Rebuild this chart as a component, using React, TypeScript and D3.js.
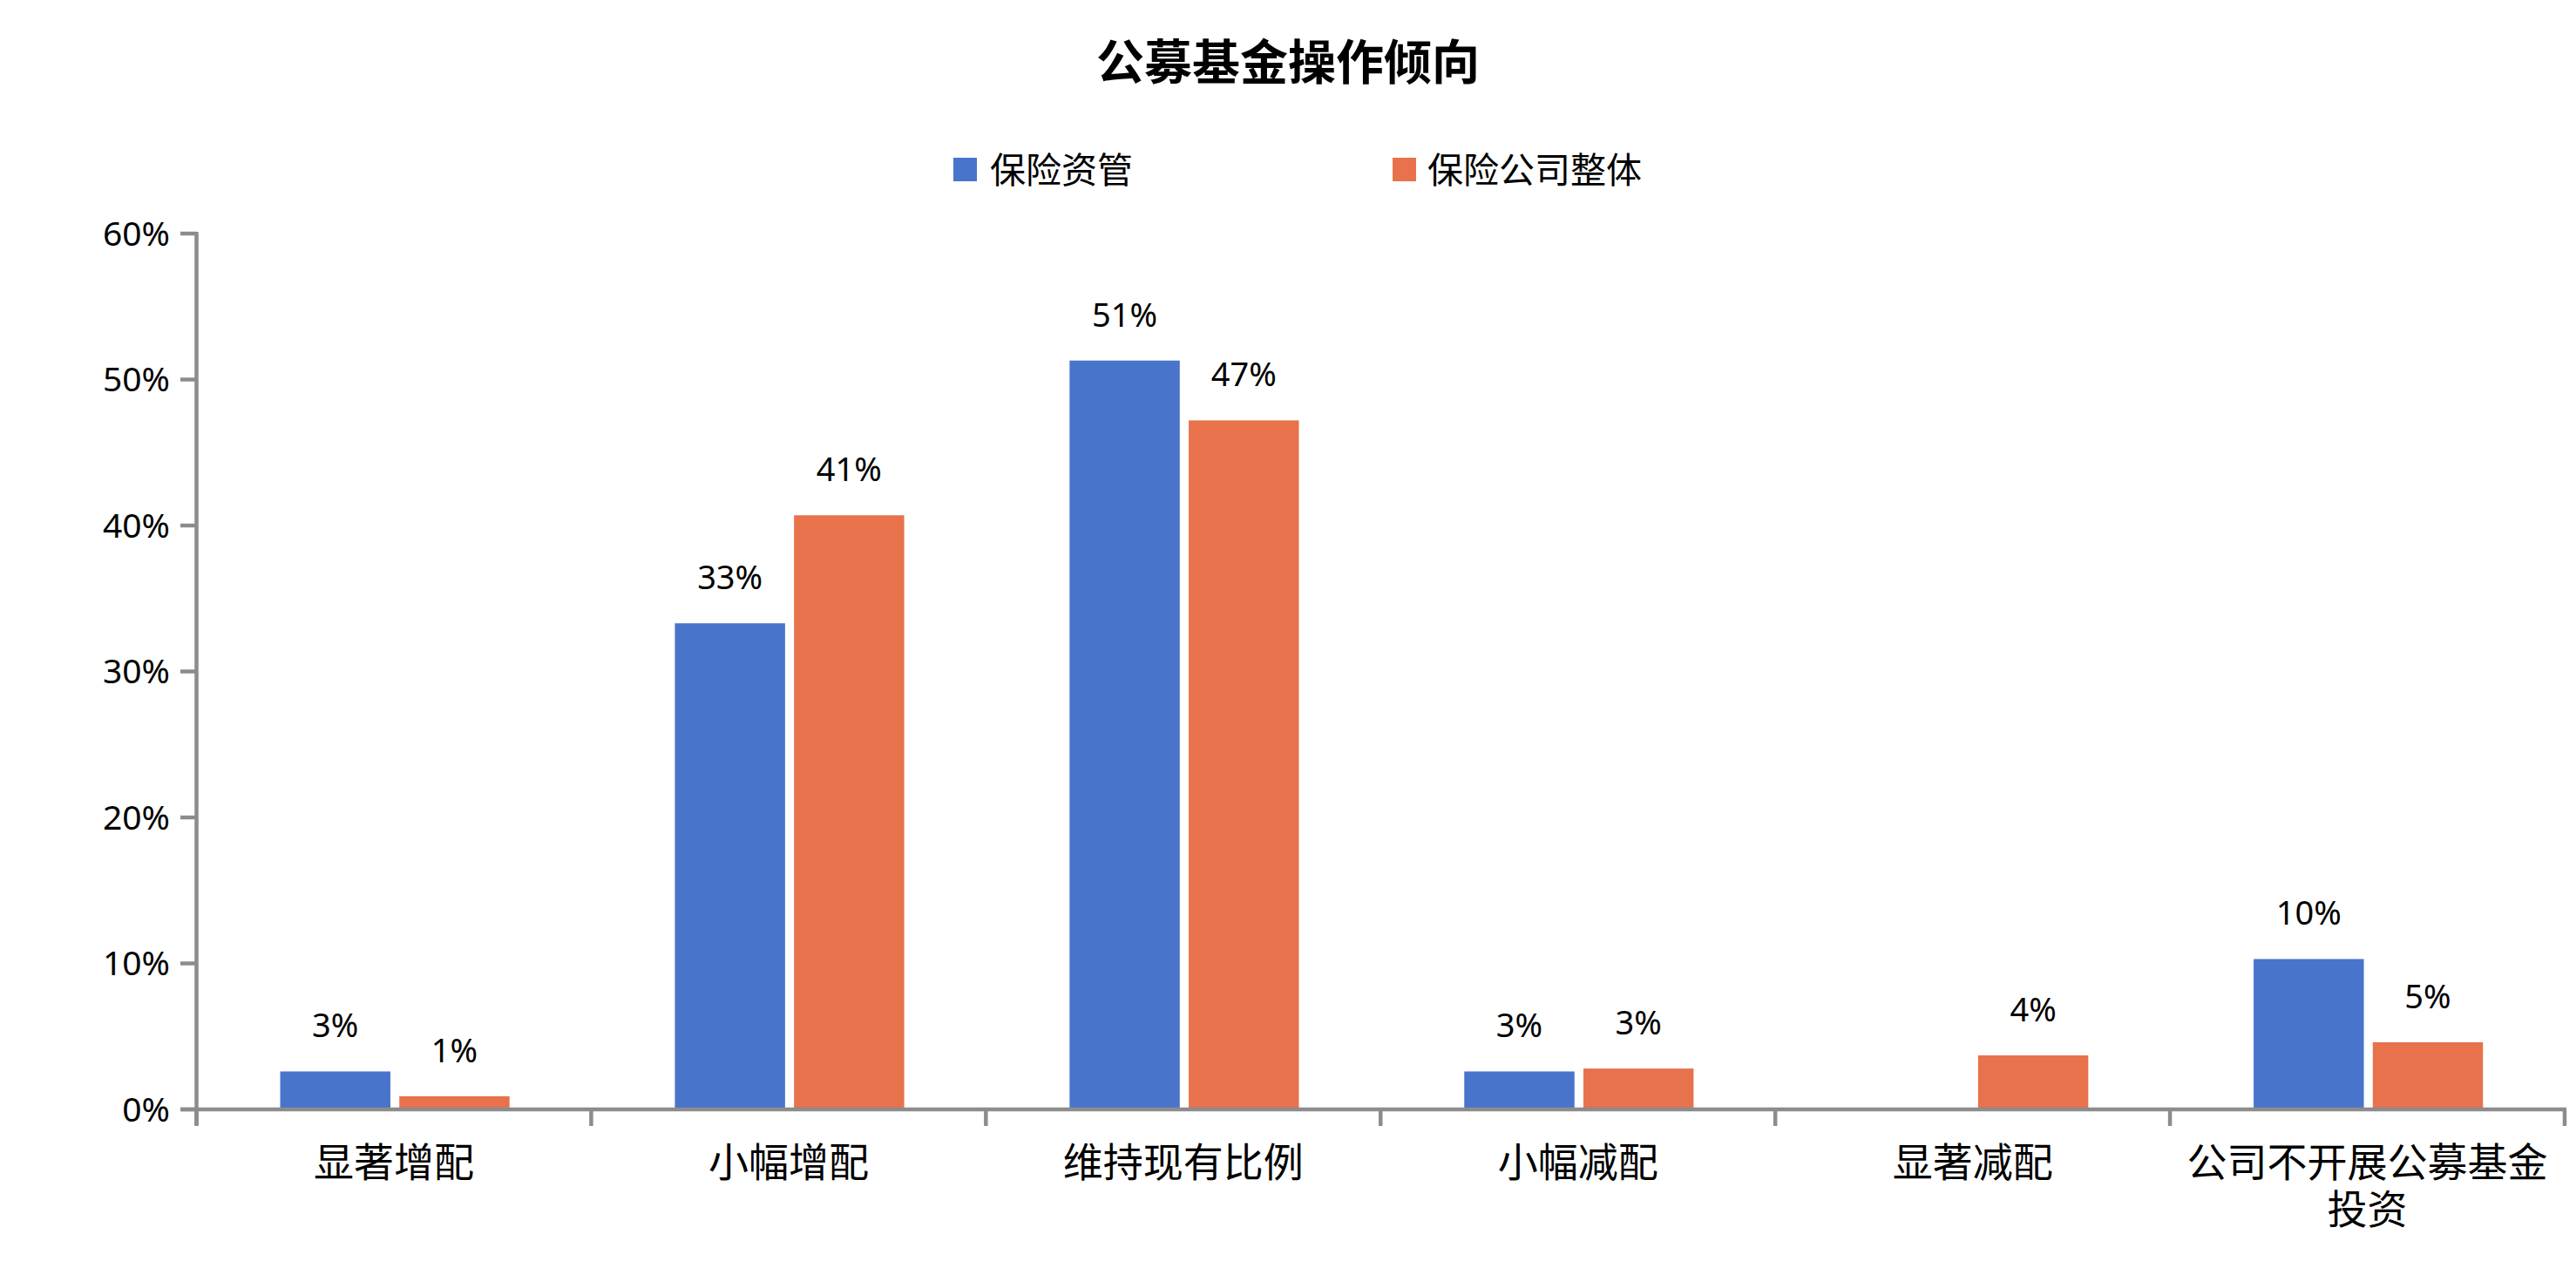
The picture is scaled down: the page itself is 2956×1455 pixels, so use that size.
import React from "react";
import * as d3 from "d3";

const categories: string[][] = [
  ["显著增配"],
  ["小幅增配"],
  ["维持现有比例"],
  ["小幅减配"],
  ["显著减配"],
  ["公司不开展公募基金", "投资"],
];
const seriesNames = ["保险资管", "保险公司整体"];
const seriesColors = ["#4874CB", "#E7724C"];
const assetMgmt = [2.6, 33.3, 51.3, 2.6, 0, 10.3];
const insurerTotal = [0.9, 40.7, 47.2, 2.8, 3.7, 4.6];
const yTicks = [0, 10, 20, 30, 40, 50, 60];
const title = "公募基金操作倾向";

const W = 2956;
const H = 1455;
const FONT = "'Noto Sans', 'Noto Sans CJK SC', sans-serif";
const AXIS = "#8C8C8C";

export default function App() {
  const left = 225.5;
  const right = 2943;
  const top = 268;
  const bottom = 1273;
  const keys = categories.map((c) => c.join(""));
  const x = d3.scaleBand<string>().domain(keys).range([left, right]).padding(0);
  const bw = x.bandwidth();
  const xs = d3
    .scaleBand<string>()
    .domain(seriesNames)
    .range([bw * 0.212, bw * 0.793])
    .paddingInner(0.075);
  const y = d3.scaleLinear().domain([0, 60]).range([bottom, top]);
  const data = [assetMgmt, insurerTotal];
  const boundaries = d3.range(keys.length + 1).map((i) => left + i * bw);

  return (
    <svg
      width={W}
      height={H}
      style={{ position: "absolute", left: 0, top: 0, background: "#fff" }}
      fontFamily={FONT}
    >
      <rect x={0} y={0} width={W} height={H} fill="#fff" />
      <text x={W / 2} y={91} textAnchor="middle" fontSize={55} fontWeight="bold" fill="#000">
        {title}
      </text>
      {/* legend */}
      {[
        { sx: 1094, tx: 1136 },
        { sx: 1598, tx: 1638 },
      ].map((p, i) => (
        <g key={i}>
          <rect x={p.sx} y={181} width={27} height={27} fill={seriesColors[i]} />
          <text x={p.tx} y={210} fontSize={41} fill="#000">
            {seriesNames[i]}
          </text>
        </g>
      ))}
      {/* bars */}
      {data.map((vals, si) =>
        vals.map((v, ci) => {
          if (v <= 0) return null;
          const bx = (x(keys[ci]) as number) + (xs(seriesNames[si]) as number);
          const by = y(v);
          return (
            <g key={`${si}-${ci}`}>
              <rect x={bx} y={by} width={xs.bandwidth()} height={bottom - by} fill={seriesColors[si]} />
              <text
                x={bx + xs.bandwidth() / 2}
                y={by - 39}
                textAnchor="middle"
                fontSize={38}
                fill="#000"
              >
                {`${Math.round(v)}%`}
              </text>
            </g>
          );
        })
      )}
      {/* y axis */}
      <line x1={left} x2={left} y1={top - 2} y2={bottom + 18} stroke={AXIS} strokeWidth={4.5} />
      {yTicks.map((t) => (
        <g key={t}>
          <line x1={207} x2={left} y1={y(t)} y2={y(t)} stroke={AXIS} strokeWidth={4.5} />
          <text x={195} y={y(t)} dy="0.35em" textAnchor="end" fontSize={39} fill="#000">
            {`${t}%`}
          </text>
        </g>
      ))}
      {/* x axis */}
      <line x1={207} x2={right + 2} y1={bottom} y2={bottom} stroke={AXIS} strokeWidth={4.5} />
      {boundaries.map((bx, i) => (
        <line key={i} x1={bx} x2={bx} y1={bottom} y2={bottom + 19} stroke={AXIS} strokeWidth={4.5} />
      ))}
      {categories.map((lines, ci) =>
        lines.map((ln, li) => (
          <text
            key={`${ci}-${li}`}
            x={(x(keys[ci]) as number) + bw / 2}
            y={1350 + li * 54}
            textAnchor="middle"
            fontSize={46}
            fill="#000"
          >
            {ln}
          </text>
        ))
      )}
    </svg>
  );
}
